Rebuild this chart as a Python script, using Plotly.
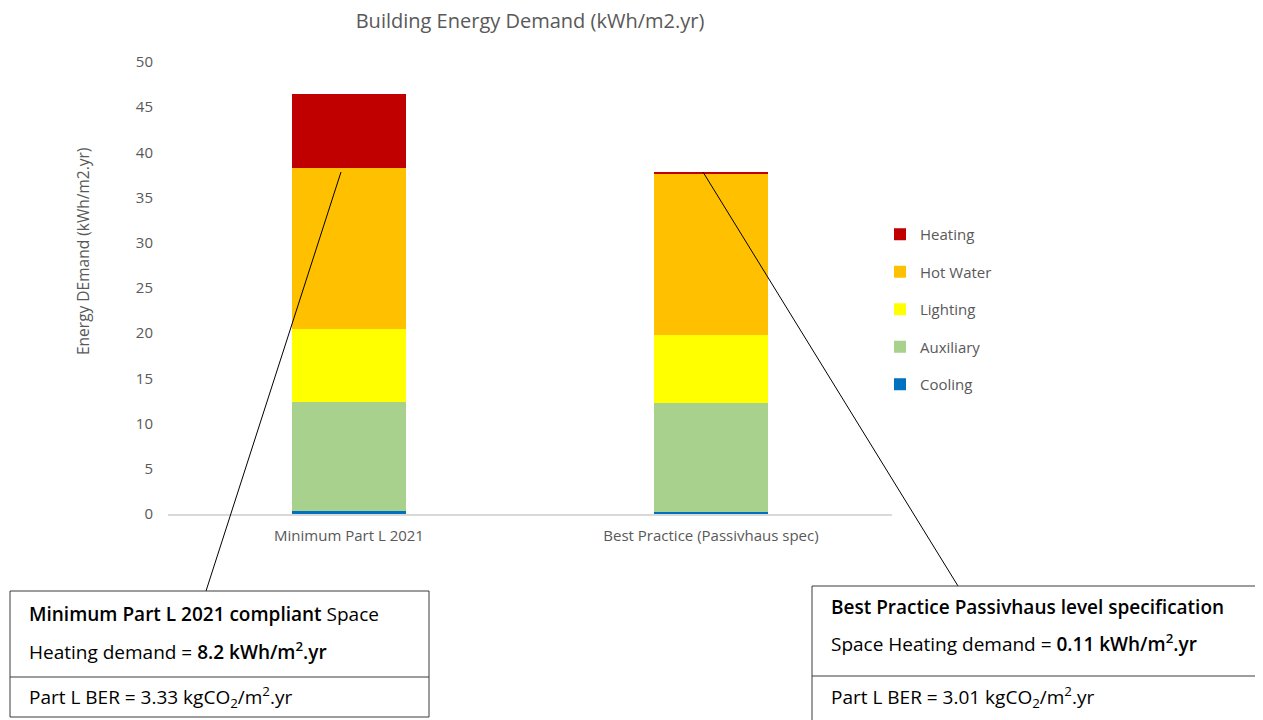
import plotly.graph_objects as go

categories = ["Minimum Part L 2021", "Best Practice (Passivhaus spec)"]
series_names = ["Cooling", "Auxiliary", "Lighting", "Hot Water", "Heating"]
cooling = [0.35, 0.2]
auxiliary = [12.05, 12.1]
lighting = [8.1, 7.5]
hot_water = [17.8, 17.9]
heating = [8.2, 0.11]
colors = ["#0070C0", "#A9D18E", "#FFFF00", "#FFC000", "#C00000"]

values = [cooling, auxiliary, lighting, hot_water, heating]

OFF = 8  # page body margin offset
W, H = 1263, 720
L, R, T, B = 168 - OFF, 892 - OFF, 62 - OFF, 514 - OFF


def px(x):
    return (x - OFF - L) / (R - L)


def py(y):
    return (B - (y - OFF)) / (B - T)


fig = go.Figure()
n = len(series_names)
for i, (name, vals, col) in enumerate(zip(series_names, values, colors)):
    fig.add_trace(go.Bar(x=categories, y=vals, name=name, marker_color=col,
                         marker_line_width=0, legendgroup=name,
                         legendrank=n - i))

font_family = "'Open Sans', Lato, sans-serif"
fig.update_layout(
    width=W, height=H,
    barmode="stack",
    bargap=0.685,
    paper_bgcolor="white", plot_bgcolor="white",
    margin=dict(l=L, r=W - R, t=T, b=H - B),
    font=dict(family=font_family, color="#595959"),
    title=dict(text="Building Energy Demand (kWh/m2.yr)", x=px(530), xref="paper",
               xanchor="center", y=1 - (21 - OFF) / H, yanchor="middle",
               font=dict(size=20, color="#595959", family=font_family)),
    legend=dict(x=px(880), y=py(218), xanchor="left", yanchor="top",
                traceorder="grouped", tracegroupgap=15,
                font=dict(size=15, color="#595959"), itemwidth=30),
    xaxis=dict(showgrid=False, showline=True, linecolor="#D9D9D9", linewidth=1.5,
               tickfont=dict(size=15, color="#595959"), ticks="",
               ticklabelstandoff=7),
    yaxis=dict(range=[0, 50], dtick=5, showgrid=False, zeroline=False, showline=False,
               tickfont=dict(size=15, color="#595959"), ticklabelstandoff=14),
)

# y-axis title
fig.add_annotation(xref="paper", yref="paper", x=px(83), y=py(252),
                   text="Energy DEmand (kWh/m2.yr)", textangle=-90, showarrow=False,
                   xanchor="center", yanchor="middle",
                   font=dict(size=15.5, color="#595959", family=font_family))

# connector lines
fig.add_shape(type="line", xref="paper", yref="paper", x0=px(341), y0=py(172),
              x1=px(206), y1=py(591), line=dict(color="black", width=1))
fig.add_shape(type="line", xref="paper", yref="paper", x0=px(703), y0=py(172),
              x1=px(958), y1=py(586), line=dict(color="black", width=1))

# boxes
fig.add_shape(type="rect", xref="paper", yref="paper", x0=px(10), y0=py(591),
              x1=px(429), y1=py(717), line=dict(color="#3a3a3a", width=1), fillcolor="white")
fig.add_shape(type="line", xref="paper", yref="paper", x0=px(10), y0=py(677),
              x1=px(429), y1=py(677), line=dict(color="#3a3a3a", width=1))
fig.add_shape(type="rect", xref="paper", yref="paper", x0=px(812), y0=py(586),
              x1=px(1256), y1=py(722), line=dict(color="#3a3a3a", width=1), fillcolor="white")
fig.add_shape(type="line", xref="paper", yref="paper", x0=px(812), y0=py(676),
              x1=px(1256), y1=py(676), line=dict(color="#3a3a3a", width=1))

SB = "<span style='font-weight:600'>"
texts = [
    (27, 614, SB + "Minimum Part L 2021 compliant</span> Space"),
    (27, 651, "Heating demand = " + SB + "8.2 kWh/m<sup>2</sup>.yr</span>"),
    (27, 697, "Part L BER = 3.33 kgCO<sub>2</sub>/m<sup>2</sup>.yr"),
    (829, 607, SB + "Best Practice Passivhaus level specification</span>"),
    (829, 643, "Space Heating demand = " + SB + "0.11 kWh/m<sup>2</sup>.yr</span>"),
    (829, 697, "Part L BER = 3.01 kgCO<sub>2</sub>/m<sup>2</sup>.yr"),
]
for x, y, t in texts:
    fig.add_annotation(xref="paper", yref="paper", x=px(x), y=py(y), text=t,
                       showarrow=False, xanchor="left", yanchor="middle",
                       font=dict(size=19, color="black", family=font_family))

fig.write_html("out.html")
